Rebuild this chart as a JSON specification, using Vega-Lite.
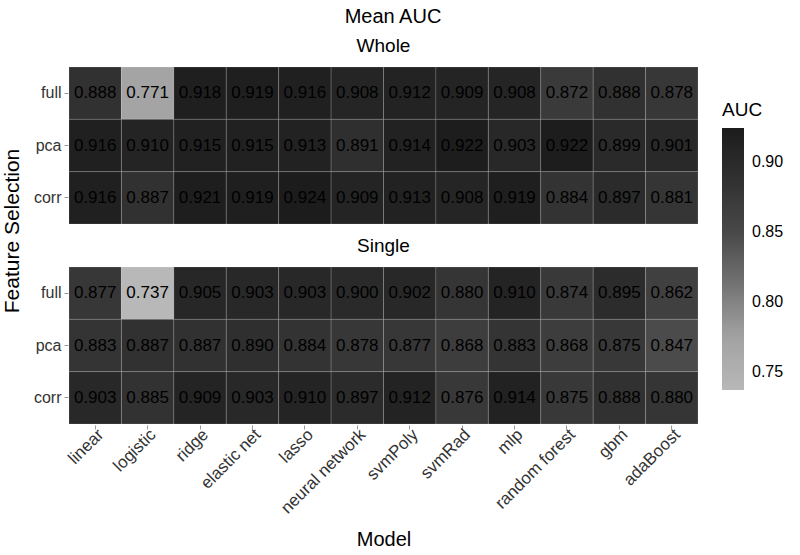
{
  "$schema": "https://vega.github.io/schema/vega-lite/v6.json",
  "padding": {"left": 1, "top": 6, "right": 5, "bottom": 2},
  "background": "white",
  "title": {"text": "Mean AUC", "fontSize": 20, "font": "Liberation Sans", "fontWeight": "normal", "color": "black", "anchor": "middle", "offset": 10},
  "config": {
    "font": "Liberation Sans",
    "view": {"stroke": null},
    "axis": {"grid": false, "domain": false, "labelFont": "Liberation Sans", "titleFont": "Liberation Sans", "labelColor": "#333333", "tickColor": "#9a9a9a", "tickSize": 4, "labelFontSize": 16, "titleFontSize": 20, "titleFontWeight": "normal", "titleColor": "black"},
    "header": {"labelFont": "Liberation Sans", "titleFont": "Liberation Sans"}
  },
  "data": {"values": [
    {"set": "Whole", "fs": "full", "model": "linear", "auc": 0.888},
    {"set": "Whole", "fs": "full", "model": "logistic", "auc": 0.771},
    {"set": "Whole", "fs": "full", "model": "ridge", "auc": 0.918},
    {"set": "Whole", "fs": "full", "model": "elastic net", "auc": 0.919},
    {"set": "Whole", "fs": "full", "model": "lasso", "auc": 0.916},
    {"set": "Whole", "fs": "full", "model": "neural network", "auc": 0.908},
    {"set": "Whole", "fs": "full", "model": "svmPoly", "auc": 0.912},
    {"set": "Whole", "fs": "full", "model": "svmRad", "auc": 0.909},
    {"set": "Whole", "fs": "full", "model": "mlp", "auc": 0.908},
    {"set": "Whole", "fs": "full", "model": "random forest", "auc": 0.872},
    {"set": "Whole", "fs": "full", "model": "gbm", "auc": 0.888},
    {"set": "Whole", "fs": "full", "model": "adaBoost", "auc": 0.878},
    {"set": "Whole", "fs": "pca", "model": "linear", "auc": 0.916},
    {"set": "Whole", "fs": "pca", "model": "logistic", "auc": 0.910},
    {"set": "Whole", "fs": "pca", "model": "ridge", "auc": 0.915},
    {"set": "Whole", "fs": "pca", "model": "elastic net", "auc": 0.915},
    {"set": "Whole", "fs": "pca", "model": "lasso", "auc": 0.913},
    {"set": "Whole", "fs": "pca", "model": "neural network", "auc": 0.891},
    {"set": "Whole", "fs": "pca", "model": "svmPoly", "auc": 0.914},
    {"set": "Whole", "fs": "pca", "model": "svmRad", "auc": 0.922},
    {"set": "Whole", "fs": "pca", "model": "mlp", "auc": 0.903},
    {"set": "Whole", "fs": "pca", "model": "random forest", "auc": 0.922},
    {"set": "Whole", "fs": "pca", "model": "gbm", "auc": 0.899},
    {"set": "Whole", "fs": "pca", "model": "adaBoost", "auc": 0.901},
    {"set": "Whole", "fs": "corr", "model": "linear", "auc": 0.916},
    {"set": "Whole", "fs": "corr", "model": "logistic", "auc": 0.887},
    {"set": "Whole", "fs": "corr", "model": "ridge", "auc": 0.921},
    {"set": "Whole", "fs": "corr", "model": "elastic net", "auc": 0.919},
    {"set": "Whole", "fs": "corr", "model": "lasso", "auc": 0.924},
    {"set": "Whole", "fs": "corr", "model": "neural network", "auc": 0.909},
    {"set": "Whole", "fs": "corr", "model": "svmPoly", "auc": 0.913},
    {"set": "Whole", "fs": "corr", "model": "svmRad", "auc": 0.908},
    {"set": "Whole", "fs": "corr", "model": "mlp", "auc": 0.919},
    {"set": "Whole", "fs": "corr", "model": "random forest", "auc": 0.884},
    {"set": "Whole", "fs": "corr", "model": "gbm", "auc": 0.897},
    {"set": "Whole", "fs": "corr", "model": "adaBoost", "auc": 0.881},
    {"set": "Single", "fs": "full", "model": "linear", "auc": 0.877},
    {"set": "Single", "fs": "full", "model": "logistic", "auc": 0.737},
    {"set": "Single", "fs": "full", "model": "ridge", "auc": 0.905},
    {"set": "Single", "fs": "full", "model": "elastic net", "auc": 0.903},
    {"set": "Single", "fs": "full", "model": "lasso", "auc": 0.903},
    {"set": "Single", "fs": "full", "model": "neural network", "auc": 0.900},
    {"set": "Single", "fs": "full", "model": "svmPoly", "auc": 0.902},
    {"set": "Single", "fs": "full", "model": "svmRad", "auc": 0.880},
    {"set": "Single", "fs": "full", "model": "mlp", "auc": 0.910},
    {"set": "Single", "fs": "full", "model": "random forest", "auc": 0.874},
    {"set": "Single", "fs": "full", "model": "gbm", "auc": 0.895},
    {"set": "Single", "fs": "full", "model": "adaBoost", "auc": 0.862},
    {"set": "Single", "fs": "pca", "model": "linear", "auc": 0.883},
    {"set": "Single", "fs": "pca", "model": "logistic", "auc": 0.887},
    {"set": "Single", "fs": "pca", "model": "ridge", "auc": 0.887},
    {"set": "Single", "fs": "pca", "model": "elastic net", "auc": 0.890},
    {"set": "Single", "fs": "pca", "model": "lasso", "auc": 0.884},
    {"set": "Single", "fs": "pca", "model": "neural network", "auc": 0.878},
    {"set": "Single", "fs": "pca", "model": "svmPoly", "auc": 0.877},
    {"set": "Single", "fs": "pca", "model": "svmRad", "auc": 0.868},
    {"set": "Single", "fs": "pca", "model": "mlp", "auc": 0.883},
    {"set": "Single", "fs": "pca", "model": "random forest", "auc": 0.868},
    {"set": "Single", "fs": "pca", "model": "gbm", "auc": 0.875},
    {"set": "Single", "fs": "pca", "model": "adaBoost", "auc": 0.847},
    {"set": "Single", "fs": "corr", "model": "linear", "auc": 0.903},
    {"set": "Single", "fs": "corr", "model": "logistic", "auc": 0.885},
    {"set": "Single", "fs": "corr", "model": "ridge", "auc": 0.909},
    {"set": "Single", "fs": "corr", "model": "elastic net", "auc": 0.903},
    {"set": "Single", "fs": "corr", "model": "lasso", "auc": 0.910},
    {"set": "Single", "fs": "corr", "model": "neural network", "auc": 0.897},
    {"set": "Single", "fs": "corr", "model": "svmPoly", "auc": 0.912},
    {"set": "Single", "fs": "corr", "model": "svmRad", "auc": 0.876},
    {"set": "Single", "fs": "corr", "model": "mlp", "auc": 0.914},
    {"set": "Single", "fs": "corr", "model": "random forest", "auc": 0.875},
    {"set": "Single", "fs": "corr", "model": "gbm", "auc": 0.888},
    {"set": "Single", "fs": "corr", "model": "adaBoost", "auc": 0.880}
  ]},
  "facet": {
    "row": {
      "field": "set", "type": "nominal", "sort": ["Whole", "Single"],
      "header": {"title": "Feature Selection", "titleOrient": "left", "titleFontSize": 21, "titleFontWeight": "normal", "titleColor": "black", "titlePadding": 0,
                 "labelOrient": "top", "labelAngle": 0, "labelFontSize": 19, "labelColor": "black", "labelPadding": -8}
    }
  },
  "spacing": {"row": 11},
  "spec": {
    "width": 629,
    "height": 157,
    "encoding": {
      "x": {"field": "model", "type": "nominal", "sort": ["linear", "logistic", "ridge", "elastic net", "lasso", "neural network", "svmPoly", "svmRad", "mlp", "random forest", "gbm", "adaBoost"],
            "scale": {"paddingInner": 0, "paddingOuter": 0},
            "axis": {"title": "Model", "labelAngle": -45, "labelFontSize": 17, "labelAlign": "right", "labelBaseline": "top", "labelPadding": -3, "titlePadding": 13}},
      "y": {"field": "fs", "type": "nominal", "sort": ["full", "pca", "corr"],
            "scale": {"paddingInner": 0, "paddingOuter": 0},
            "axis": {"title": null, "labelPadding": 3}}
    },
    "layer": [
      {"mark": {"type": "rect", "stroke": "white", "strokeWidth": 0.6, "strokeOpacity": 0.25},
       "encoding": {"color": {"field": "auc", "type": "quantitative", "title": "AUC",
         "scale": {"domain": [0.737, 0.775, 0.85, 0.924], "range": ["#b8b8b8", "#a2a2a2", "#484848", "#1c1c1c"], "interpolate": "lab"},
         "legend": {"orient": "none", "legendX": 653, "legendY": 34, "gradientLength": 262, "gradientThickness": 22, "titleFontSize": 19, "titleFontWeight": "normal", "titleColor": "black", "labelFontSize": 16, "labelColor": "black", "values": [0.75, 0.80, 0.85, 0.90], "format": ".2f", "labelOffset": 8, "titlePadding": 8}}}},
      {"mark": {"type": "text", "fontSize": 17, "color": "black"},
       "encoding": {"text": {"field": "auc", "type": "quantitative", "format": ".3f"}}}
    ]
  }
}
